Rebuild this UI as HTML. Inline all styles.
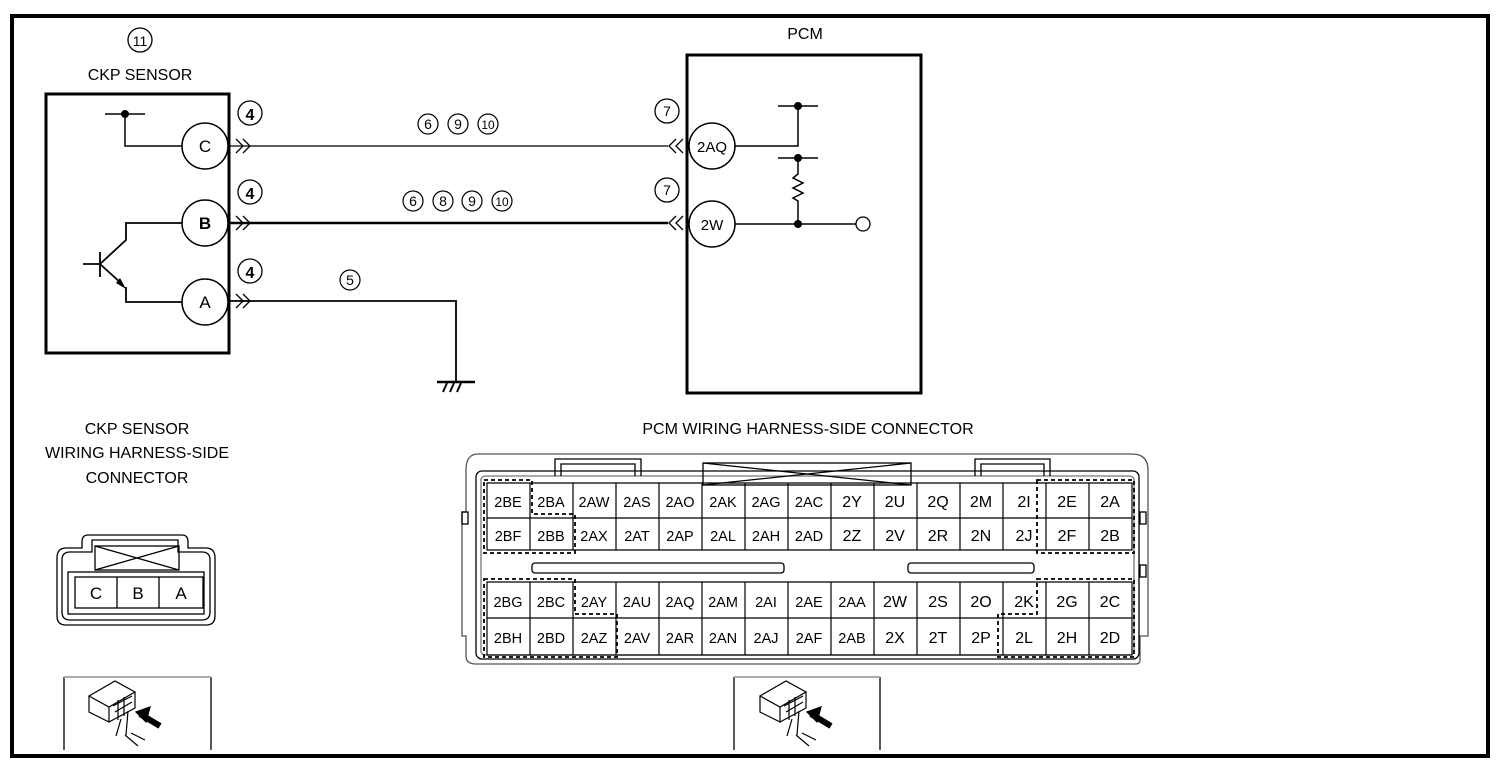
<!DOCTYPE html>
<html><head><meta charset="utf-8"><style>
html,body{margin:0;padding:0;background:#fff;}
svg{display:block;font-family:"Liberation Sans",sans-serif;}
</style></head><body>
<svg width="1502" height="766" viewBox="0 0 1502 766" xmlns="http://www.w3.org/2000/svg">
<rect x="0" y="0" width="1502" height="766" fill="#fff"/>
<rect x="12" y="16" width="1476" height="740" fill="none" stroke="#000" stroke-width="4"/>

<g fill="none" stroke="#000">
<!-- CKP sensor -->
<circle cx="140" cy="40" r="12" stroke-width="1.3"/>
<rect x="46" y="94" width="183" height="259" stroke-width="3"/>
<circle cx="205" cy="146" r="23" stroke-width="1.5"/>
<circle cx="205" cy="223" r="23" stroke-width="1.5"/>
<circle cx="205" cy="302" r="23" stroke-width="1.5"/>
<path d="M105 114H145M125 114V146H182" stroke-width="1.5"/>
<path d="M182 223H126V240L100 264M100 252V277M83 264H100M100 264L122 284M126 287V302H182" stroke-width="1.8"/>
<circle cx="250" cy="113" r="12" stroke-width="1.3"/>
<circle cx="250" cy="192" r="12" stroke-width="1.3"/>
<circle cx="250" cy="271" r="12" stroke-width="1.3"/>
<!-- chevrons right -->
<path d="M236 139L243 146L236 153M243 139L250 146L243 153" stroke-width="1.3"/>
<path d="M236 216L243 223L236 230M243 216L250 223L243 230" stroke-width="1.3"/>
<path d="M236 294L243 301L236 308M243 294L250 301L243 308" stroke-width="1.3"/>
<!-- wires -->
<path d="M229 146H668" stroke-width="1.3"/>
<path d="M229 223H668" stroke-width="2.6"/>
<path d="M229 301H456V382" stroke-width="1.8"/>
<path d="M437 382H475" stroke-width="2.5"/>
<path d="M443 392L447 383M450 392L454 383M457 392L461 383" stroke-width="2"/>
<circle cx="428" cy="124" r="10" stroke-width="1.2"/><circle cx="458" cy="124" r="10" stroke-width="1.2"/><circle cx="488" cy="124" r="10" stroke-width="1.2"/>
<circle cx="413" cy="201" r="10" stroke-width="1.2"/><circle cx="443" cy="201" r="10" stroke-width="1.2"/><circle cx="472" cy="201" r="10" stroke-width="1.2"/><circle cx="502" cy="201" r="10" stroke-width="1.2"/>
<circle cx="350" cy="280" r="10" stroke-width="1.2"/>
<!-- PCM -->
<rect x="687" y="55" width="234" height="338" stroke-width="3"/>
<circle cx="667" cy="111" r="12" stroke-width="1.3"/>
<circle cx="667" cy="190" r="12" stroke-width="1.3"/>
<path d="M676 139L669 146L676 153M683 139L676 146L683 153" stroke-width="1.3"/>
<path d="M676 216L669 223L676 230M683 216L676 223L683 230" stroke-width="1.3"/>
<circle cx="712" cy="146" r="23" stroke="#000" fill="#fff" stroke-width="1.5"/>
<circle cx="712" cy="224" r="23" stroke="#000" fill="#fff" stroke-width="1.5"/>
<path d="M735 146H798V106M778 106H818" stroke-width="1.5"/>
<path d="M778 158H818M798 158V174L793 178L803 183L793 188L803 193L793 198L798 201V224M735 224H856" stroke-width="1.5"/>
<circle cx="863" cy="224" r="7" stroke-width="1.3"/>
</g>
<g fill="#000">
<circle cx="125" cy="114" r="4"/>
<path d="M116 283L126 289L120 278Z"/>
<circle cx="798" cy="106" r="4"/><circle cx="798" cy="158" r="4"/><circle cx="798" cy="224" r="4"/>
</g>
<g font-size="16" text-anchor="middle" fill="#000">
<text x="140" y="46" font-size="14">11</text>
<text x="140" y="80">CKP SENSOR</text>
<text x="205" y="152" font-size="17">C</text>
<text x="205" y="229" font-size="17" font-weight="bold">B</text>
<text x="205" y="308" font-size="17">A</text>
<text x="250" y="120" font-size="16" font-weight="bold">4</text>
<text x="250" y="199" font-size="16" font-weight="bold">4</text>
<text x="250" y="278" font-size="16" font-weight="bold">4</text>
<g font-size="14"><text x="428" y="129">6</text><text x="458" y="129">9</text><text x="488" y="129" font-size="12">10</text>
<text x="413" y="206">6</text><text x="443" y="206">8</text><text x="472" y="206">9</text><text x="502" y="206" font-size="12">10</text>
<text x="350" y="285">5</text><text x="667" y="116">7</text><text x="667" y="195">7</text></g>
<text x="805" y="39">PCM</text>
<text x="712" y="152" font-size="15">2AQ</text>
<text x="712" y="230" font-size="15">2W</text>
<text x="137" y="434">CKP SENSOR</text>
<text x="137" y="458">WIRING HARNESS-SIDE</text>
<text x="137" y="483">CONNECTOR</text>
<text x="808" y="434">PCM WIRING HARNESS-SIDE CONNECTOR</text>
</g>

<!-- CKP connector -->
<g fill="none" stroke="#000" stroke-width="1.3">
<path d="M88 535H182Q188 535 188 542V548H206Q215 548 215 558V616Q215 625 206 625H66Q57 625 57 616V558Q57 548 66 548H82V542Q82 535 88 535Z"/>
<path d="M92 540H178V552H202Q210 552 210 560V612Q210 620 202 620H70Q62 620 62 612V560Q62 552 70 552H92Z"/>
<rect x="95" y="546" width="84" height="24"/>
<path d="M95 546L179 570M179 546L95 570"/>
<rect x="68" y="572" width="136" height="42"/>
<rect x="75" y="577" width="128" height="31"/>
<path d="M117 577V608M159 577V608"/>
</g>
<g font-size="17" text-anchor="middle"><text x="96" y="599">C</text><text x="138" y="599">B</text><text x="181" y="599">A</text></g>

<!-- icon boxes -->
<g fill="none" stroke="#000" stroke-width="1.3">
<path d="M64 750V677M211 677V750"/>
<path d="M734 750V677M880 677V750"/>
</g>
<path d="M64 677H211M734 677H880" stroke="#aaa" stroke-width="2"/>
<g id="ic" fill="none" stroke="#000" stroke-width="1.2">
<path d="M89 696L115 681L135 692L109 707Z M89 696V712L109 722V707 M135 692V708L109 722"/>
<path d="M113 706L132 696M115 712L132 702M118 700V720M124 697V716M128 711L126 735M121 719L116 736M131 733L145 740M125 735L138 746"/>
<path d="M140 714L160 726" stroke-width="6"/>
<path d="M136 712L150 707L146 722Z" fill="#000"/>
</g>
<use href="#ic" x="671" y="0"/>

<!-- PCM connector -->
<g fill="none" stroke="#000" stroke-width="1.3">
<path d="M478 454H1132Q1148 454 1148 470V636H1140V660Q1140 664 1136 664H476Q466 664 466 656V636H462V512H466V470Q466 454 478 454Z" stroke="#555"/>
<rect x="476" y="471" width="663" height="188" rx="6"/>
<rect x="481" y="476" width="653" height="179" rx="4" stroke="#777"/>
<path d="M555 476V459H641V476M561 476V464H635V476"/>
<path d="M975 476V459H1050V476M981 476V464H1044V476"/>
<rect x="703" y="463" width="208" height="22"/>
<path d="M703 463L911 485M911 463L703 485"/>
<rect x="462" y="512" width="6" height="12"/>
<rect x="1140" y="512" width="6" height="12"/>
<rect x="1140" y="565" width="6" height="12"/>
<rect x="532" y="563" width="252" height="10" rx="3"/>
<rect x="908" y="563" width="126" height="10" rx="3"/>
</g>
<g fill="none" stroke="#000" stroke-width="1.8" stroke-dasharray="4 3">
<path d="M484 480H532V514H575V553H484Z"/>
<path d="M1037 480H1134V553H1037Z"/>
<path d="M484 579H575V614H617V657H484Z"/>
<path d="M1037 579H1134V657H998V614H1037Z"/>
</g>
<g id="cells" fill="none" stroke="#000" stroke-width="1.2">
<path d="M487 483H1132V550H487Z M487 518H1132 M487 582H1132V655H487Z M487 618H1132"/>
<path d="M530 483V550M573 483V550M616 483V550M659 483V550M702 483V550M745 483V550M788 483V550M831 483V550M874 483V550M917 483V550M960 483V550M1003 483V550M1046 483V550M1089 483V550"/>
<path d="M530 582V655M573 582V655M616 582V655M659 582V655M702 582V655M745 582V655M788 582V655M831 582V655M874 582V655M917 582V655M960 582V655M1003 582V655M1046 582V655M1089 582V655"/>
</g>
<g font-size="14.5" text-anchor="middle" fill="#000">
<text x="508" y="507">2BE</text><text x="551" y="507">2BA</text><text x="594" y="507">2AW</text><text x="637" y="507">2AS</text><text x="680" y="507">2AO</text><text x="723" y="507">2AK</text><text x="766" y="507">2AG</text><text x="809" y="507">2AC</text><text x="852" y="507" font-size="16">2Y</text><text x="895" y="507" font-size="16">2U</text><text x="938" y="507" font-size="16">2Q</text><text x="981" y="507" font-size="16">2M</text><text x="1024" y="507" font-size="16">2I</text><text x="1067" y="507" font-size="16">2E</text><text x="1110" y="507" font-size="16">2A</text>
<text x="508" y="541">2BF</text><text x="551" y="541">2BB</text><text x="594" y="541">2AX</text><text x="637" y="541">2AT</text><text x="680" y="541">2AP</text><text x="723" y="541">2AL</text><text x="766" y="541">2AH</text><text x="809" y="541">2AD</text><text x="852" y="541" font-size="16">2Z</text><text x="895" y="541" font-size="16">2V</text><text x="938" y="541" font-size="16">2R</text><text x="981" y="541" font-size="16">2N</text><text x="1024" y="541" font-size="16">2J</text><text x="1067" y="541" font-size="16">2F</text><text x="1110" y="541" font-size="16">2B</text>
<text x="508" y="607">2BG</text><text x="551" y="607">2BC</text><text x="594" y="607">2AY</text><text x="637" y="607">2AU</text><text x="680" y="607">2AQ</text><text x="723" y="607">2AM</text><text x="766" y="607">2AI</text><text x="809" y="607">2AE</text><text x="852" y="607">2AA</text><text x="895" y="607" font-size="16">2W</text><text x="938" y="607" font-size="16">2S</text><text x="981" y="607" font-size="16">2O</text><text x="1024" y="607" font-size="16">2K</text><text x="1067" y="607" font-size="16">2G</text><text x="1110" y="607" font-size="16">2C</text>
<text x="508" y="643">2BH</text><text x="551" y="643">2BD</text><text x="594" y="643">2AZ</text><text x="637" y="643">2AV</text><text x="680" y="643">2AR</text><text x="723" y="643">2AN</text><text x="766" y="643">2AJ</text><text x="809" y="643">2AF</text><text x="852" y="643">2AB</text><text x="895" y="643" font-size="16">2X</text><text x="938" y="643" font-size="16">2T</text><text x="981" y="643" font-size="16">2P</text><text x="1024" y="643" font-size="16">2L</text><text x="1067" y="643" font-size="16">2H</text><text x="1110" y="643" font-size="16">2D</text>
</g>
</svg>
</body></html>
